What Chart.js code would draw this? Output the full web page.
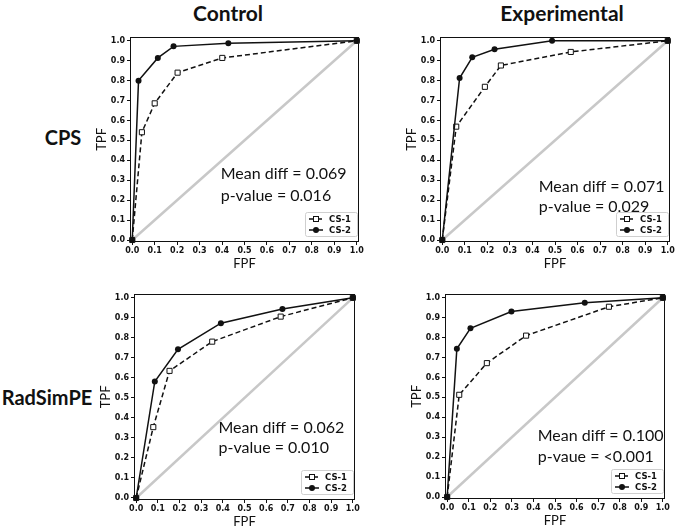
<!DOCTYPE html>
<html>
<head>
<meta charset="utf-8">
<script src="https://cdn.jsdelivr.net/npm/chart.js@4.4.1/dist/chart.umd.min.js"></script>
<style>
  body { margin: 0; background: #fff; }
  #wrap { position: relative; width: 676px; height: 526px; overflow: hidden; }
  #wrap canvas { position: absolute; }
  .lbl { position: absolute; font-family: Lato, "Open Sans", sans-serif; font-weight: bold; color: #111; white-space: nowrap; transform: translate(-50%, -50%); }
</style>
</head>
<body>
<div id="wrap">
  <div class="lbl" style="left:228px; top:12px; font-size:21px;">Control</div>
  <div class="lbl" style="left:562px; top:12px; font-size:21px;">Experimental</div>
  <div class="lbl" style="left:63px; top:137px; font-size:20px;">CPS</div>
  <div class="lbl" style="left:47px; top:397px; font-size:20px;">RadSimPE</div>
</div>
<script>
// axis ticks
const tickValues = [0, 0.1, 0.2, 0.3, 0.4, 0.5, 0.6, 0.7, 0.8, 0.9, 1.0];
const tickLabels = ["0.0", "0.1", "0.2", "0.3", "0.4", "0.5", "0.6", "0.7", "0.8", "0.9", "1.0"];
const seriesNames = ["CS-1", "CS-2"];

// ROC points [FPF, TPF]
const cpsControlCS1 = [[0, 0], [0.043, 0.541], [0.100, 0.686], [0.202, 0.840], [0.401, 0.914], [1, 1]];
const cpsControlCS2 = [[0, 0], [0.028, 0.800], [0.114, 0.914], [0.184, 0.972], [0.428, 0.987], [1, 1]];
const cpsExperCS1 = [[0, 0], [0.062, 0.569], [0.189, 0.769], [0.260, 0.876], [0.570, 0.944], [1, 1]];
const cpsExperCS2 = [[0, 0], [0.077, 0.813], [0.133, 0.917], [0.232, 0.957], [0.487, 1.000], [1, 1]];
const radControlCS1 = [[0, 0], [0.079, 0.354], [0.154, 0.635], [0.351, 0.781], [0.667, 0.906], [1, 1]];
const radControlCS2 = [[0, 0], [0.086, 0.582], [0.193, 0.743], [0.391, 0.873], [0.675, 0.944], [1, 1]];
const radExperCS1 = [[0, 0], [0.056, 0.513], [0.184, 0.672], [0.366, 0.810], [0.750, 0.955], [1, 1]];
const radExperCS2 = [[0, 0], [0.045, 0.744], [0.108, 0.847], [0.298, 0.931], [0.638, 0.975], [1, 1]];
const chanceLine = [[0, 0], [1, 1]];

const meanDiffLabels = ["Mean diff = 0.069", "Mean diff = 0.071", "Mean diff = 0.062", "Mean diff = 0.100"];
const pValueLabels = ["p-value = 0.016", "p-value = 0.029", "p-value = 0.010", "p-vaue = <0.001"];

// panel placement: plot area box on the page + where the text block sits (data units)
const paineis = [
  { cs1: cpsControlCS1, cs2: cpsControlCS2, area: [130, 34, 229, 208], texto: [0.394, 0.333, 0.224] },
  { cs1: cpsExperCS1, cs2: cpsExperCS2, area: [440, 34, 230, 208], texto: [0.428, 0.269, 0.165] },
  { cs1: radControlCS1, cs2: radControlCS2, area: [134, 291, 221, 209], texto: [0.380, 0.352, 0.250] },
  { cs1: radExperCS1, cs2: radExperCS2, area: [445, 291, 220, 208], texto: [0.420, 0.305, 0.203] }
];

const Y_W = 38, X_H = 30, T_PAD = 4, R_PAD = 12;

function pontos(lista) {
  return lista.map(p => ({ x: p[0], y: p[1] }));
}

const molduraPlugin = {
  id: "moldura",
  beforeDatasetsDraw(chart) {
    const a = chart.chartArea;
    const ctx = chart.ctx;
    ctx.save();
    ctx.strokeStyle = "#111";
    ctx.lineWidth = 1;
    ctx.strokeRect(Math.round(a.left) + 0.5, Math.round(a.top) + 0.5, Math.round(a.right - a.left) - 1, Math.round(a.bottom - a.top) - 1);
    ctx.restore();
  }
};

const textoPlugin = {
  id: "textos",
  afterDraw(chart) {
    const opts = chart.options.plugins.textos;
    const ctx = chart.ctx;
    const sx = chart.scales.x, sy = chart.scales.y;
    const a = chart.chartArea;
    ctx.save();
    // mean diff / p-value
    ctx.fillStyle = "#111";
    ctx.font = "16px Lato";
    ctx.textAlign = "left";
    ctx.textBaseline = "middle";
    ctx.fillText(opts.linha1, sx.getPixelForValue(opts.pos[0]), sy.getPixelForValue(opts.pos[1]));
    ctx.fillText(opts.linha2, sx.getPixelForValue(opts.pos[0]), sy.getPixelForValue(opts.pos[2]));

    // legend box, lower right
    const lw = 52, lh = 24;
    const lx = a.right - lw - 2, ly = a.bottom - lh - 6;
    ctx.beginPath();
    ctx.roundRect(lx + 0.5, ly + 0.5, lw, lh, 2);
    ctx.fillStyle = "rgba(255,255,255,0.85)";
    ctx.fill();
    ctx.strokeStyle = "#cfcfcf";
    ctx.lineWidth = 1;
    ctx.stroke();
    ctx.font = "bold 8.5px 'DejaVu Sans'";
    for (let i = 0; i < 2; i++) {
      const ds = chart.data.datasets[i];
      const cy = ly + 7 + i * 11;
      ctx.beginPath();
      ctx.setLineDash(ds.borderDash || []);
      ctx.strokeStyle = "#111";
      ctx.lineWidth = 1.5;
      ctx.moveTo(lx + 4, cy);
      ctx.lineTo(lx + 18, cy);
      ctx.stroke();
      ctx.setLineDash([]);
      ctx.lineWidth = 1;
      if (ds.pointStyle === "rect") {
        ctx.fillStyle = "#fff";
        ctx.fillRect(lx + 8.5, cy - 2.5, 5, 5);
        ctx.strokeRect(lx + 8.5, cy - 2.5, 5, 5);
      } else {
        ctx.beginPath();
        ctx.arc(lx + 11, cy, 3, 0, Math.PI * 2);
        ctx.fillStyle = "#111";
        ctx.fill();
      }
      ctx.fillStyle = "#111";
      ctx.fillText(ds.label, lx + 24, cy + 0.5);
    }
    ctx.restore();
  }
};

function eixo(titulo, min, max, ehY) {
  return {
    type: "linear",
    min: min,
    max: max,
    afterBuildTicks: s => { s.ticks = tickValues.map(v => ({ value: v })); },
    afterFit: s => { if (ehY) s.width = Y_W; else s.height = X_H; },
    border: { display: false },
    grid: { display: true, drawOnChartArea: false, drawTicks: true, tickLength: 3, color: "#111", lineWidth: 1 },
    ticks: {
      color: "#111",
      padding: ehY ? 2 : 1,
      autoSkip: false,
      maxRotation: 0,
      font: { family: "'DejaVu Sans'", size: 8, weight: "bold" },
      callback: (v, i) => tickLabels[i]
    },
    title: {
      display: true,
      text: titulo,
      color: "#111",
      padding: ehY ? { top: 2, bottom: 0 } : { top: 0, bottom: 0 },
      font: { family: "Lato", size: 13 }
    }
  };
}

function criarPainel(p, idx) {
  const [left, top, w, h] = p.area;
  const canvas = document.createElement("canvas");
  canvas.width = Y_W + w + R_PAD;
  canvas.height = T_PAD + h + X_H;
  canvas.style.left = (left - Y_W) + "px";
  canvas.style.top = (top - T_PAD) + "px";
  document.getElementById("wrap").appendChild(canvas);

  new Chart(canvas.getContext("2d"), {
    type: "scatter",
    data: {
      datasets: [
        {
          label: seriesNames[0],
          data: pontos(p.cs1),
          showLine: true,
          borderColor: "#111",
          borderWidth: 1.5,
          borderDash: [5, 3],
          pointStyle: "rect",
          pointRadius: 3.6,
          pointBackgroundColor: "#fff",
          pointBorderColor: "#111",
          pointBorderWidth: 1,
          order: 1
        },
        {
          label: seriesNames[1],
          data: pontos(p.cs2),
          showLine: true,
          borderColor: "#111",
          borderWidth: 1.5,
          pointStyle: "circle",
          pointRadius: 3,
          pointBackgroundColor: "#111",
          pointBorderColor: "#111",
          pointBorderWidth: 0,
          order: 0
        },
        {
          label: "chance",
          data: pontos(chanceLine),
          showLine: true,
          borderColor: "#c8c8c8",
          borderWidth: 2.5,
          pointRadius: 0,
          order: 2
        }
      ]
    },
    options: {
      responsive: false,
      animation: false,
      events: [],
      clip: false,
      layout: { autoPadding: false, padding: { top: T_PAD, right: R_PAD, left: 0, bottom: 0 } },
      scales: {
        x: eixo("FPF", -0.01, 1.01, false),
        y: eixo("TPF", -0.01, 1.02, true)
      },
      plugins: {
        legend: { display: false },
        tooltip: { enabled: false },
        textos: { linha1: meanDiffLabels[idx], linha2: pValueLabels[idx], pos: p.texto }
      }
    },
    plugins: [molduraPlugin, textoPlugin]
  });
}

paineis.forEach(criarPainel);
</script>
</body>
</html>
